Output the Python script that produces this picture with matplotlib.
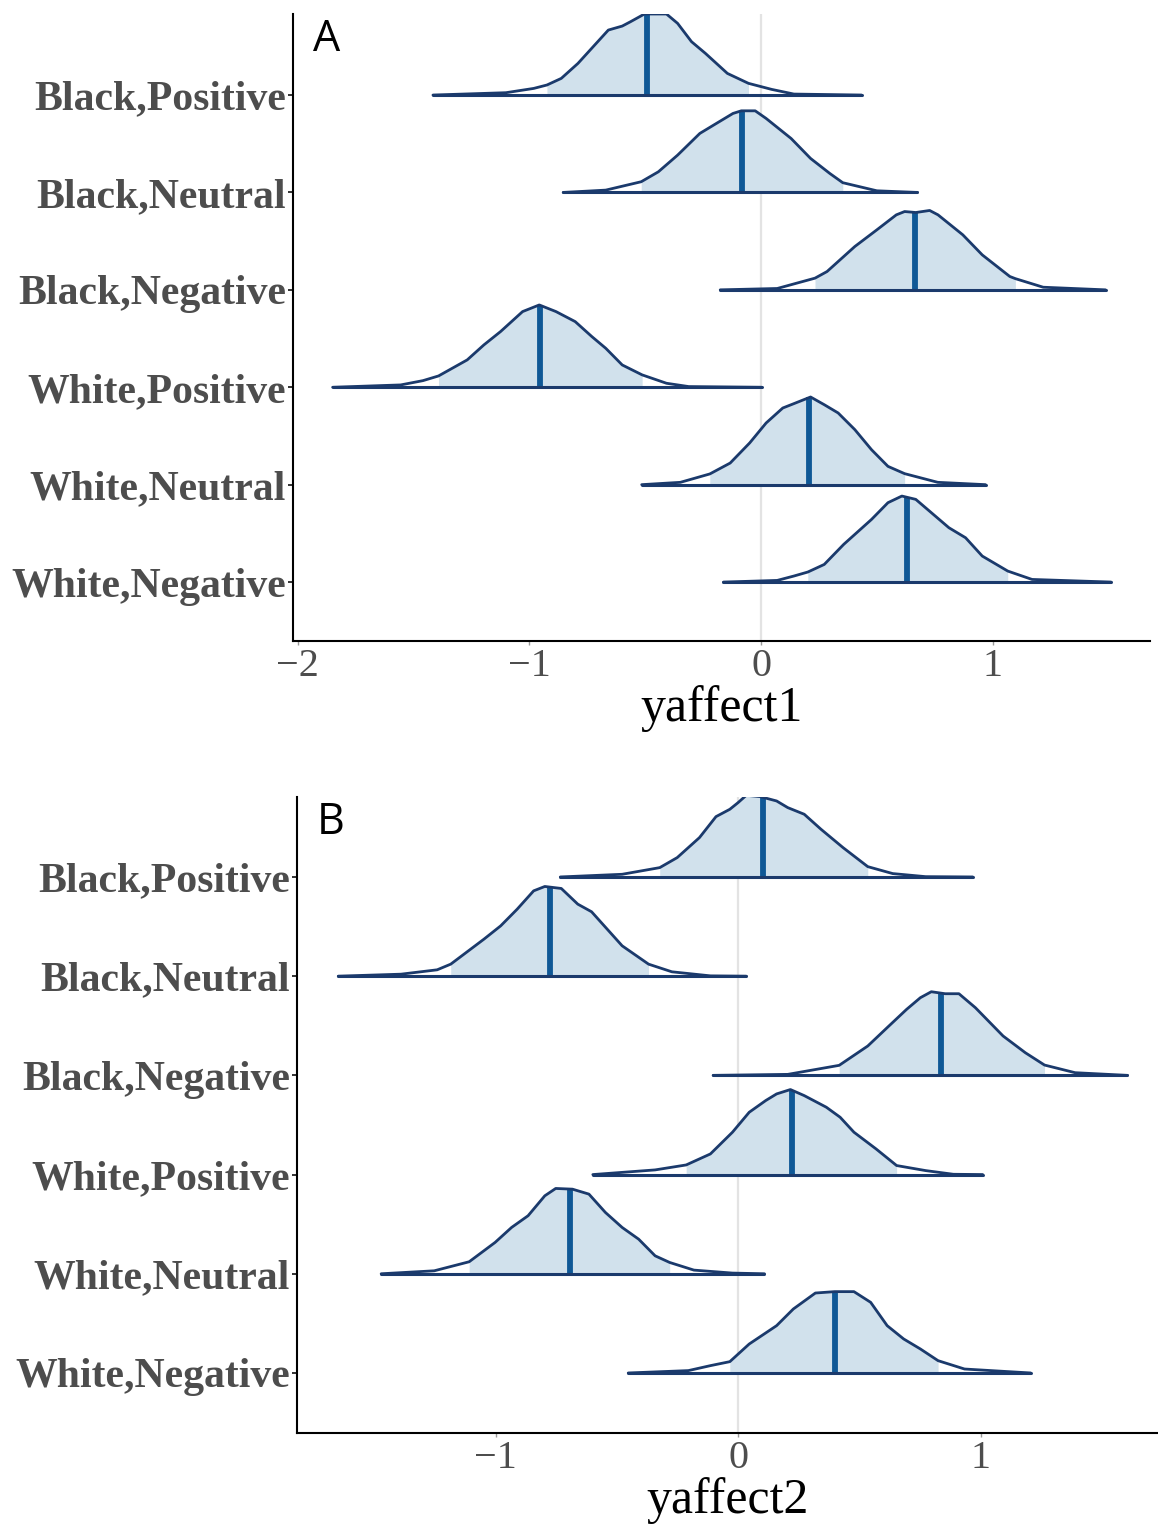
import numpy as np
import matplotlib
matplotlib.use("Agg")
import matplotlib.pyplot as plt

categories = ["Black,Positive", "Black,Neutral", "Black,Negative",
              "White,Positive", "White,Neutral", "White,Negative"]

# ---------------- Panel A : yaffect1 ----------------
a_bp_x = [-1.416, -1.101, -0.981, -0.924, -0.862, -0.790, -0.718, -0.659, -0.599, -0.563,
          -0.503, -0.408, -0.360, -0.300, -0.240, -0.145, -0.054, 0.046, 0.142, 0.434]
a_bp_h = [0, 0.024, 0.068, 0.103, 0.171, 0.325, 0.513, 0.667, 0.708, 0.753,
          0.832, 0.832, 0.736, 0.548, 0.428, 0.222, 0.120, 0.058, 0.010, 0]

a_bn_x = [-0.854, -0.670, -0.517, -0.443, -0.360, -0.264, -0.193, -0.121, -0.085, -0.025,
          0.022, 0.130, 0.214, 0.297, 0.353, 0.500, 0.675]
a_bn_h = [0, 0.024, 0.110, 0.212, 0.383, 0.606, 0.708, 0.811, 0.838, 0.838,
          0.760, 0.554, 0.349, 0.195, 0.100, 0.017, 0]

a_bneg_x = [-0.176, 0.070, 0.233, 0.285, 0.405, 0.500, 0.584, 0.620, 0.668, 0.728,
            0.764, 0.871, 0.955, 1.074, 1.098, 1.218, 1.487]
a_bneg_h = [0, 0.014, 0.120, 0.188, 0.445, 0.616, 0.770, 0.804, 0.794, 0.815,
            0.770, 0.565, 0.359, 0.137, 0.115, 0.027, 0]

a_wp_x = [-1.849, -1.555, -1.459, -1.392, -1.268, -1.196, -1.124, -1.029, -0.957, -0.885,
          -0.802, -0.730, -0.670, -0.599, -0.513, -0.408, -0.312, 0.003]
a_wp_h = [0, 0.024, 0.068, 0.116, 0.281, 0.435, 0.572, 0.777, 0.845, 0.777,
          0.674, 0.520, 0.400, 0.229, 0.127, 0.041, 0.007, 0]

a_wn_x = [-0.515, -0.348, -0.221, -0.133, -0.049, 0.022, 0.094, 0.142, 0.214, 0.273,
          0.333, 0.405, 0.477, 0.548, 0.620, 0.763, 0.969]
a_wn_h = [0, 0.024, 0.110, 0.222, 0.428, 0.633, 0.787, 0.832, 0.900, 0.821,
          0.736, 0.565, 0.359, 0.188, 0.113, 0.024, 0]

a_wneg_x = [-0.162, 0.070, 0.142, 0.202, 0.273, 0.357, 0.477, 0.548, 0.608, 0.668,
            0.811, 0.883, 0.955, 1.065, 1.170, 1.511]
a_wneg_h = [0, 0.017, 0.062, 0.103, 0.181, 0.387, 0.643, 0.815, 0.883, 0.849,
            0.558, 0.455, 0.267, 0.113, 0.027, 0]

a_median = [-0.491, -0.080, 0.663, -0.952, 0.209, 0.632]
a_inner_lo = [-0.924, -0.517, 0.233, -1.392, -0.221, 0.202]
a_inner_hi = [-0.054, 0.353, 1.098, -0.513, 0.620, 1.065]

# ---------------- Panel B : yaffect2 ----------------
b_bp_x = [-0.733, -0.478, -0.323, -0.251, -0.159, -0.091, -0.034, 0.000, 0.034, 0.091,
          0.159, 0.205, 0.273, 0.342, 0.433, 0.535, 0.638, 0.774, 0.968]
b_bp_h = [0, 0.027, 0.094, 0.195, 0.397, 0.608, 0.682, 0.749, 0.823, 0.810,
          0.766, 0.699, 0.632, 0.481, 0.296, 0.104, 0.034, 0.003, 0]

b_bn_x = [-1.649, -1.390, -1.241, -1.185, -1.048, -0.979, -0.911, -0.843, -0.797, -0.729,
          -0.661, -0.604, -0.478, -0.369, -0.273, -0.114, 0.034]
b_bn_h = [0, 0.020, 0.064, 0.121, 0.373, 0.507, 0.675, 0.860, 0.904, 0.884,
          0.726, 0.649, 0.306, 0.121, 0.044, 0.003, 0]

b_bneg_x = [-0.103, 0.205, 0.417, 0.535, 0.615, 0.695, 0.752, 0.797, 0.854, 0.911,
            0.979, 1.093, 1.185, 1.264, 1.390, 1.606]
b_bneg_h = [0, 0.010, 0.101, 0.296, 0.481, 0.665, 0.783, 0.843, 0.823, 0.823,
            0.682, 0.397, 0.228, 0.104, 0.027, 0]

b_wp_x = [-0.599, -0.342, -0.214, -0.114, -0.023, 0.046, 0.114, 0.159, 0.216, 0.273,
          0.364, 0.421, 0.478, 0.569, 0.654, 0.774, 0.888, 1.009]
b_wp_h = [0, 0.047, 0.097, 0.208, 0.427, 0.628, 0.746, 0.813, 0.857, 0.796,
          0.679, 0.578, 0.427, 0.259, 0.091, 0.040, 0.003, 0]

b_wn_x = [-1.472, -1.253, -1.109, -1.002, -0.934, -0.866, -0.797, -0.752, -0.683, -0.615,
          -0.547, -0.478, -0.410, -0.342, -0.282, -0.182, -0.023, 0.109]
b_wn_h = [0, 0.030, 0.121, 0.316, 0.467, 0.585, 0.786, 0.860, 0.853, 0.803,
          0.618, 0.467, 0.349, 0.181, 0.114, 0.037, 0.007, 0]

b_wneg_x = [-0.453, -0.205, -0.114, -0.034, 0.046, 0.159, 0.228, 0.319, 0.399, 0.478,
            0.547, 0.615, 0.683, 0.752, 0.825, 0.934, 1.207]
b_wneg_h = [0, 0.024, 0.074, 0.114, 0.292, 0.477, 0.645, 0.806, 0.820, 0.820,
            0.712, 0.477, 0.343, 0.242, 0.124, 0.040, 0]

b_median = [0.103, -0.774, 0.838, 0.223, -0.695, 0.399]
b_inner_lo = [-0.323, -1.185, 0.417, -0.214, -1.109, -0.034]
b_inner_hi = [0.535, -0.369, 1.264, 0.654, -0.282, 0.825]

a_xticks = [-2, -1, 0, 1]
b_xticks = [-1, 0, 1]
a_xticklabels = ["\u22122", "\u22121", "0", "1"]
b_xticklabels = ["\u22121", "0", "1"]

# ---------------- style ----------------
FILL = "#d1e1ec"
OUTLINE = "#1b3a6c"
MEDIAN = "#0f5896"
TICKCOL = "#4d4d4d"

W, H = 1158, 1528
fig = plt.figure(figsize=(W / 100, H / 100), dpi=100)


def add_panel(rect, xs, hs, med, lo, hi, xlim, ylim, xticks, xticklabels, xlabel, letter):
    ax = fig.add_axes(rect)
    ax.axvline(0, color="#e3e3e3", lw=1.6, zorder=1)
    n = len(categories)
    for i in range(n):
        y0 = n - i
        x = np.asarray(xs[i], dtype=float)
        h = np.asarray(hs[i], dtype=float)
        m = (x >= lo[i] - 1e-9) & (x <= hi[i] + 1e-9)
        ax.fill_between(x[m], y0, y0 + h[m], color=FILL, lw=0, zorder=2)
        hm = np.interp(med[i], x, h)
        ax.plot([med[i], med[i]], [y0, y0 + hm], color=MEDIAN, lw=4.2,
                solid_capstyle="butt", zorder=3)
        ax.plot(x, y0 + h, color=OUTLINE, lw=2.0, zorder=4,
                solid_joinstyle="round", solid_capstyle="round")
        ax.plot([x[0], x[-1]], [y0, y0], color=OUTLINE, lw=2.2, zorder=4,
                solid_capstyle="round")
    ax.set_xlim(*xlim)
    ax.set_ylim(*ylim)
    ax.set_yticks([n - i for i in range(n)])
    ax.set_yticklabels(categories, family="Liberation Serif", fontweight="bold",
                       fontsize=30.1, color=TICKCOL)
    ax.set_xticks(xticks)
    ax.set_xticklabels(xticklabels, family="Liberation Serif", fontsize=29,
                       color=TICKCOL)
    ax.tick_params(axis="y", length=3.5, width=1.4, color="#333333", pad=1.5)
    ax.tick_params(axis="x", length=3, width=1.0, color="#999999", pad=2)
    for s in ("top", "right"):
        ax.spines[s].set_visible(False)
    for s in ("left", "bottom"):
        ax.spines[s].set_linewidth(1.5)
        ax.spines[s].set_color("black")
    ax.set_xlabel(xlabel, family="Liberation Serif", fontsize=35.8, color="black",
                  labelpad=0)
    ax.text(0.023, 0.995, letter, transform=ax.transAxes, ha="left", va="top",
            family="Open Sans", fontsize=31, color="black")
    return ax


a_xs = [a_bp_x, a_bn_x, a_bneg_x, a_wp_x, a_wn_x, a_wneg_x]
a_hs = [a_bp_h, a_bn_h, a_bneg_h, a_wp_h, a_wn_h, a_wneg_h]
b_xs = [b_bp_x, b_bn_x, b_bneg_x, b_wp_x, b_wn_x, b_wneg_x]
b_hs = [b_bp_h, b_bn_h, b_bneg_h, b_wp_h, b_wn_h, b_wneg_h]

add_panel([293 / W, 1 - 641 / H, (1150 - 293) / W, (641 - 14) / H],
          a_xs, a_hs, a_median, a_inner_lo, a_inner_hi,
          (-2.020, 1.679), (0.395, 6.832), a_xticks, a_xticklabels, "yaffect1", "A")

add_panel([297 / W, 1 - 1433 / H, (1158 - 297) / W, (1433 - 797) / H],
          b_xs, b_hs, b_median, b_inner_lo, b_inner_hi,
          (-1.819, 1.732), (0.395, 6.806), b_xticks, b_xticklabels, "yaffect2", "B")

fig.savefig("out.png", dpi=100)
